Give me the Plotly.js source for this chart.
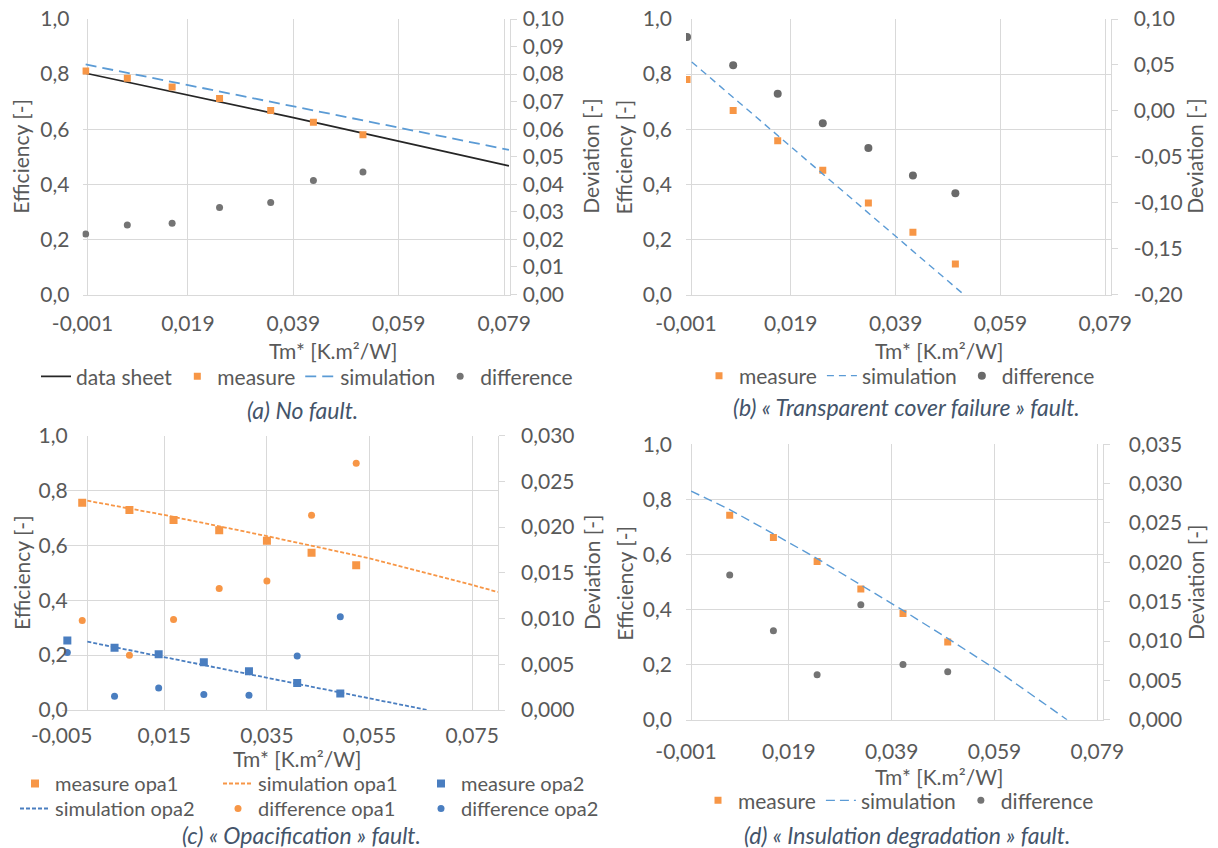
<!DOCTYPE html>
<html><head><meta charset="utf-8">
<script src="https://cdn.plot.ly/plotly-3.0.1.min.js"></script>
<style>html,body{margin:0;padding:0;background:#fff}#chart{width:1218px;height:848px}</style>
</head><body><div id="chart"></div>
<script>
// ---------- (a) No fault ----------
const a_x = [-0.0004, 0.0075, 0.0160, 0.0250, 0.0347, 0.0428, 0.0522];
const a_measure = [0.811, 0.785, 0.753, 0.711, 0.668, 0.625, 0.580];
const a_difference = [0.0220, 0.0252, 0.0259, 0.0316, 0.0334, 0.0414, 0.0445];
const a_sheet_x = [-0.0006, 0.039, 0.0799];
const a_sheet_y = [0.804, 0.642, 0.467];
const a_sim_x = [-0.0004, 0.0799];
const a_sim_y = [0.835, 0.525];

// ---------- (b) Transparent cover failure ----------
const b_x = [-0.0008, 0.0080, 0.0165, 0.0251, 0.0338, 0.0423, 0.0504];
const b_measure = [0.780, 0.668, 0.558, 0.451, 0.332, 0.226, 0.111];
const b_difference = [0.0804, 0.0496, 0.0187, -0.0135, -0.0405, -0.0705, -0.0897];
const b_sim_x = [0.0001, 0.0520];
const b_sim_y = [0.844, 0.0];

// ---------- (c) Opacification ----------
const c_opa1_x = [-0.0010, 0.0082, 0.0168, 0.0257, 0.0350, 0.0437, 0.0524];
const c_opa1_measure = [0.756, 0.729, 0.693, 0.655, 0.617, 0.573, 0.528];
const c_opa1_difference = [0.0098, 0.0060, 0.0099, 0.0133, 0.0141, 0.0213, 0.0270];
const c_opa1_sim_x = [0.0, 0.015, 0.035, 0.055, 0.075, 0.080];
const c_opa1_sim_y = [0.763, 0.711, 0.634, 0.553, 0.456, 0.430];
const c_opa2_x = [-0.0039, 0.0053, 0.0139, 0.0227, 0.0315, 0.0409, 0.0493];
const c_opa2_measure = [0.253, 0.227, 0.203, 0.174, 0.141, 0.098, 0.060];
const c_opa2_difference = [0.0063, 0.0015, 0.0024, 0.0017, 0.0016, 0.0059, 0.0102];
const c_opa2_sim_x = [0.0, 0.0663];
const c_opa2_sim_y = [0.249, 0.0];

// ---------- (d) Insulation degradation ----------
const d_x = [0.0075, 0.0160, 0.0245, 0.0330, 0.0412, 0.0499];
const d_measure = [0.742, 0.662, 0.574, 0.475, 0.386, 0.282];
const d_difference = [0.0184, 0.0113, 0.0057, 0.0146, 0.0070, 0.0061];
const d_sim_x = [0.0000, 0.0074, 0.0160, 0.0245, 0.0332, 0.0412, 0.0499, 0.0586, 0.0731];
const d_sim_y = [0.830, 0.764, 0.675, 0.585, 0.487, 0.397, 0.295, 0.191, 0.0];

// ---------- tick labels ----------
const xTickVals = [-0.001, 0.019, 0.039, 0.059, 0.079];
const xTickText = ['-0,001', '0,019', '0,039', '0,059', '0,079'];
const xTickValsC = [-0.005, 0.015, 0.035, 0.055, 0.075];
const xTickTextC = ['-0,005', '0,015', '0,035', '0,055', '0,075'];
const bRightVals = [-0.20, -0.15, -0.10, -0.05, 0.00, 0.05, 0.10];
const bRightText = ['-0,20', '-0,15', '-0,10', '-0,05', '0,00', '0,05', '0,10'];

// ---------- text ----------
const xTitle = 'Tm* [K.m²/W]';
const yLeftTitle = 'Efficiency [-]';
const yRightTitle = 'Deviation [-]';
const captions = ['(a) No fault.', '(b) « Transparent cover failure » fault.',
                  '(c) « Opacification » fault.', '(d) « Insulation degradation » fault.'];

// ---------- styles ----------
const W = 1218, H = 848;
const FONT = 'Lato, "Open Sans", sans-serif';
const GRAY = '#595959';
const GRID = '#D9D9D9';
const ORANGE = '#F79646';
const BLUE = '#5B9BD5';
const DBLUE = '#4A7EC0';
const DGRAY = '#747474';
const px = v => v / W;
const py = v => 1 - v / H;

const traces = [];
function add(t){ traces.push(Object.assign({hoverinfo:'skip'}, t)); }

// (a)
add({x:a_sheet_x, y:a_sheet_y, mode:'lines', name:'data sheet', xaxis:'x', yaxis:'y', legend:'legend',
     line:{color:'#262626', width:1.7}});
add({x:a_x, y:a_measure, mode:'markers', name:'measure', xaxis:'x', yaxis:'y', legend:'legend',
     marker:{symbol:'square', size:7, color:ORANGE}});
add({x:a_sim_x, y:a_sim_y, mode:'lines', name:'simulation', xaxis:'x', yaxis:'y', legend:'legend',
     line:{color:BLUE, width:1.8, dash:'11px,6px'}});
add({x:a_x, y:a_difference, mode:'markers', name:'difference', xaxis:'x', yaxis:'y2', legend:'legend',
     marker:{symbol:'circle', size:7, color:DGRAY}});
// (b)
add({x:b_x, y:b_measure, mode:'markers', name:'measure', xaxis:'x2', yaxis:'y3', legend:'legend2',
     marker:{symbol:'square', size:7, color:ORANGE}});
add({x:b_sim_x, y:b_sim_y, mode:'lines', name:'simulation', xaxis:'x2', yaxis:'y3', legend:'legend2',
     line:{color:BLUE, width:1.4, dash:'7px,5px'}});
add({x:b_x, y:b_difference, mode:'markers', name:'difference', xaxis:'x2', yaxis:'y4', legend:'legend2',
     marker:{symbol:'circle', size:8, color:'#6A6A6A'}});
// (c)
add({x:c_opa1_x, y:c_opa1_measure, mode:'markers', name:'measure opa1', xaxis:'x3', yaxis:'y5', legend:'legend3',
     marker:{symbol:'square', size:8, color:ORANGE}});
add({x:c_opa1_sim_x, y:c_opa1_sim_y, mode:'lines', name:'simulation opa1', xaxis:'x3', yaxis:'y5', legend:'legend3',
     line:{color:ORANGE, width:1.8, dash:'4px,2px'}});
add({x:c_opa2_x, y:c_opa2_measure, mode:'markers', name:'measure opa2', xaxis:'x3', yaxis:'y5', legend:'legend3',
     marker:{symbol:'square', size:8, color:DBLUE}});
add({x:c_opa2_sim_x, y:c_opa2_sim_y, mode:'lines', name:'simulation opa2', xaxis:'x3', yaxis:'y5', legend:'legend5',
     line:{color:DBLUE, width:1.8, dash:'4px,2px'}});
add({x:c_opa1_x, y:c_opa1_difference, mode:'markers', name:'difference opa1', xaxis:'x3', yaxis:'y6', legend:'legend5',
     marker:{symbol:'circle', size:7, color:ORANGE}});
add({x:c_opa2_x, y:c_opa2_difference, mode:'markers', name:'difference opa2', xaxis:'x3', yaxis:'y6', legend:'legend5',
     marker:{symbol:'circle', size:7, color:DBLUE}});
// (d)
add({x:d_x, y:d_measure, mode:'markers', name:'measure', xaxis:'x4', yaxis:'y7', legend:'legend4',
     marker:{symbol:'square', size:7, color:ORANGE}});
add({x:d_sim_x, y:d_sim_y, mode:'lines', name:'simulation', xaxis:'x4', yaxis:'y7', legend:'legend4',
     line:{color:BLUE, width:1.4, dash:'9px,5px'}});
add({x:d_x, y:d_difference, mode:'markers', name:'difference', xaxis:'x4', yaxis:'y8', legend:'legend4',
     marker:{symbol:'circle', size:7, color:DGRAY}});

const tickfont = {family:FONT, size:21, color:GRAY};

function xAxis(dom, anchor, min, vals, text, standoff){
  return {domain:dom, anchor:anchor, range:[min, 0.08], tickmode:'array', tickvals:vals, ticktext:text,
          showgrid:true, gridcolor:GRID, gridwidth:1, zeroline:true, zerolinecolor:GRID, zerolinewidth:1,
          showline:true, linecolor:GRID, linewidth:1, ticks:'', tickfont:tickfont, ticklabelstandoff:standoff,
          fixedrange:true};
}
function yLeft(dom, anchor, standoff){
  return {domain:dom, anchor:anchor, range:[0,1], dtick:0.2, tick0:0, tickformat:'.1f',
          showgrid:true, gridcolor:GRID, gridwidth:1, zeroline:false, showline:false, ticks:'',
          tickfont:tickfont, ticklabelstandoff:standoff, fixedrange:true};
}
function yRight(over, anchor, rng, dt, fmt, standoff, extra){
  return Object.assign({overlaying:over, anchor:anchor, side:'right', range:rng, dtick:dt, tick0:0, tickformat:fmt,
          showgrid:false, zeroline:false, showline:true, linecolor:GRID, linewidth:1,
          ticks:'outside', ticklen:6, tickcolor:GRID, tickwidth:1,
          tickfont:tickfont, ticklabelstandoff:standoff, fixedrange:true}, extra||{});
}

const domA = [px(82.5), px(509.5)], domB = [px(686), px(1110.5)];
const domC = [px(61.7), px(497.8)], domD = [px(686), px(1102.5)];
const vTop = [py(294.5), py(19)];
const vC = [py(710), py(435.7)], vD = [py(719.7), py(444.3)];

function legend(x, y, extra){
  return Object.assign({orientation:'h', x:px(x), xanchor:'left', y:py(y), yanchor:'middle',
    font:{family:FONT, size:21, color:GRAY}, bgcolor:'rgba(0,0,0,0)', borderwidth:0,
    itemwidth:30, traceorder:'normal', itemclick:false, itemdoubleclick:false}, extra||{});
}
const cLegendFont = {family:FONT, size:20, color:GRAY};

const annotations = [];
function ann(text, x, y, opts){
  annotations.push(Object.assign({text:text, x:px(x), y:py(y), xref:'paper', yref:'paper',
    xanchor:'center', yanchor:'middle', showarrow:false,
    font:{family:FONT, size:21, color:GRAY}}, opts||{}));
}
// axis titles
ann(xTitle, 333, 350); ann(xTitle, 939, 350.5); ann(xTitle, 297, 758.5); ann(xTitle, 939, 776);
[[21,156.7],[623.7,156.7],[21,573],[623.7,583]].forEach(p=>ann(yLeftTitle, p[0], p[1], {textangle:-90}));
[[591,156.7],[1195,156.7],[591,573],[1195,583]].forEach(p=>ann(yRightTitle, p[0], p[1], {textangle:-90}));
// captions
const capFont = {family:FONT, size:23, color:'#44546A', style:'italic'};
ann(captions[0], 302, 410, {font:capFont});
ann(captions[1], 906.6, 407, {font:capFont});
ann(captions[2], 301.8, 835, {font:capFont});
ann(captions[3], 906.6, 835, {font:capFont});

const layout = {
  width:W, height:H, margin:{l:0, r:0, t:0, b:0, pad:0},
  paper_bgcolor:'#ffffff', plot_bgcolor:'#ffffff', separators:', ',
  font:{family:FONT, color:GRAY},
  showlegend:true,
  xaxis: xAxis(domA, 'y', -0.001, xTickVals, xTickText, 10),
  yaxis: yLeft(vTop, 'x', 12),
  yaxis2: yRight('y', 'x', [0, 0.1], 0.01, '.2f', 2),
  xaxis2: xAxis(domB, 'y3', -0.001, xTickVals, xTickText, 10),
  yaxis3: yLeft(vTop, 'x2', 13),
  yaxis4: yRight('y3', 'x2', [-0.2, 0.1], 0.05, '.2f', 12, {tickmode:'array', tickvals:bRightVals, ticktext:bRightText}),
  xaxis3: xAxis(domC, 'y5', -0.005, xTickValsC, xTickTextC, 7),
  yaxis5: yLeft(vC, 'x3', -7),
  yaxis6: yRight('y5', 'x3', [0, 0.03], 0.005, '.3f', 12),
  xaxis4: xAxis(domD, 'y7', -0.001, xTickVals, xTickText, 13),
  yaxis7: yLeft(vD, 'x4', 13),
  yaxis8: yRight('y7', 'x4', [0, 0.035], 0.005, '.3f', 15),
  legend: legend(36, 376.7),
  legend2: legend(699, 376),
  legend3: legend(15, 783.5, {entrywidth:158, entrywidthmode:'pixels', font:cLegendFont}),
  legend5: legend(15, 808.5, {entrywidth:158, entrywidthmode:'pixels', font:cLegendFont}),
  legend4: legend(698, 800.7),
  annotations: annotations
};

Plotly.newPlot('chart', traces, layout, {staticPlot:true, displayModeBar:false});
</script>
</body></html>
